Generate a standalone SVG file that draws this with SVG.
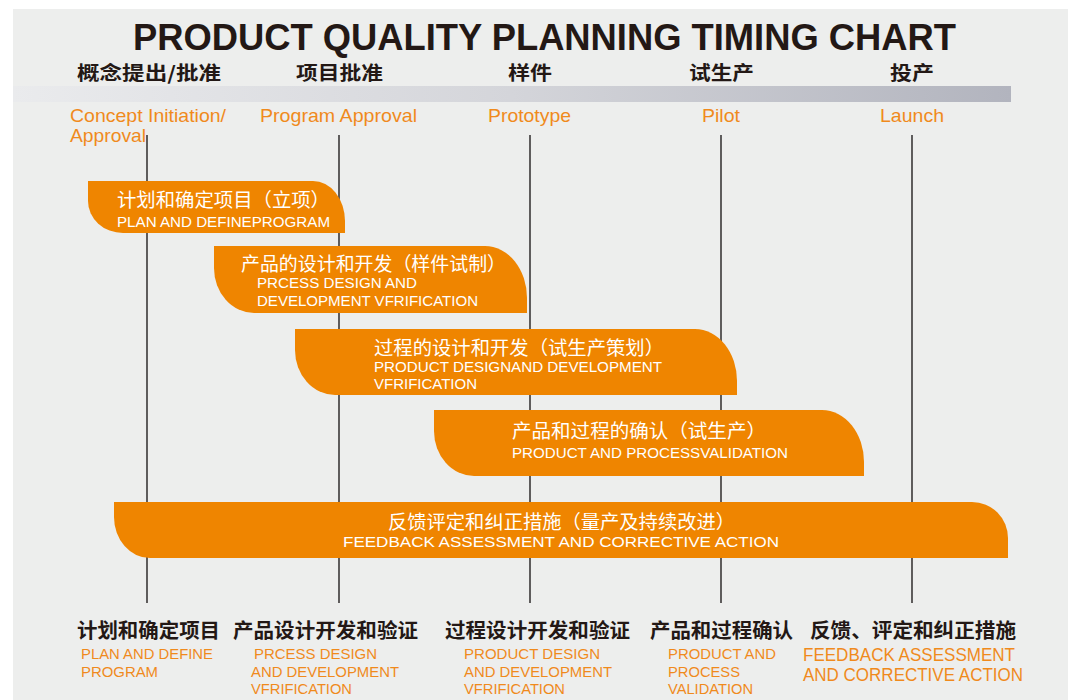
<svg xmlns="http://www.w3.org/2000/svg" width="1068" height="700" viewBox="0 0 1068 700">
<style>
.title{font-family:"Liberation Sans",Arial,sans-serif;font-weight:700;font-size:36px;fill:#231815}
.hcn{font-family:"Noto Sans CJK SC",sans-serif;font-weight:700;font-size:19px;fill:#231815}
.hen{font-family:"Liberation Sans",Arial,sans-serif;font-size:19px;fill:#f08a1c}
.bcn{font-family:"Noto Sans CJK SC",sans-serif;font-weight:400;font-size:19px;fill:#ffffff}
.ben{font-family:"Liberation Sans",Arial,sans-serif;font-size:14.5px;fill:#ffffff}
.fcn{font-family:"Noto Sans CJK SC",sans-serif;font-weight:700;font-size:20px;fill:#231815}
.fen{font-family:"Liberation Sans",Arial,sans-serif;font-size:15px;fill:#f08a1c}
.fen2{font-family:"Liberation Sans",Arial,sans-serif;font-size:18px;fill:#f08a1c}
.bar{fill:#ef8500}
.vl{stroke:#3a3838;stroke-width:1.6;fill:none}
</style>
<defs>
<linearGradient id="g" x1="0" y1="0" x2="1" y2="0">
<stop offset="0" stop-color="#eaebed"/>
<stop offset="0.5" stop-color="#d4d5da"/>
<stop offset="1" stop-color="#b2b4be"/>
</linearGradient>
</defs>
<rect x="0" y="0" width="1068" height="700" fill="#ffffff"/>
<rect x="13" y="9" width="1055" height="691" fill="#edeeed"/>
<rect x="13" y="86" width="998" height="16" fill="url(#g)"/>
<text class="title" x="133" y="50" textLength="823" lengthAdjust="spacingAndGlyphs">PRODUCT QUALITY PLANNING TIMING CHART</text>
<g id="headers">
<text class="hcn" x="77" y="80" textLength="144" lengthAdjust="spacingAndGlyphs">概念提出/批准</text>
<text class="hcn" x="296" y="80" textLength="87" lengthAdjust="spacingAndGlyphs">项目批准</text>
<text class="hcn" x="508" y="80" textLength="44" lengthAdjust="spacingAndGlyphs">样件</text>
<text class="hcn" x="689" y="80" textLength="65" lengthAdjust="spacingAndGlyphs">试生产</text>
<text class="hcn" x="890" y="80" textLength="44" lengthAdjust="spacingAndGlyphs">投产</text>
<text class="hen" x="70" y="122" textLength="156" lengthAdjust="spacingAndGlyphs">Concept Initiation/</text>
<text class="hen" x="70" y="142" textLength="76" lengthAdjust="spacingAndGlyphs">Approval</text>
<text class="hen" x="260" y="122" textLength="157" lengthAdjust="spacingAndGlyphs">Program Approval</text>
<text class="hen" x="488" y="122" textLength="83" lengthAdjust="spacingAndGlyphs">Prototype</text>
<text class="hen" x="702" y="122" textLength="38" lengthAdjust="spacingAndGlyphs">Pilot</text>
<text class="hen" x="880" y="122" textLength="64" lengthAdjust="spacingAndGlyphs">Launch</text>
</g>
<g id="connectors">
<line class="vl" x1="147" y1="135" x2="147" y2="603"/>
<line class="vl" x1="339" y1="135" x2="339" y2="603"/>
<line class="vl" x1="530" y1="135" x2="530" y2="603"/>
<line class="vl" x1="721" y1="135" x2="721" y2="603"/>
<line class="vl" x1="912" y1="135" x2="912" y2="603"/>
</g>
<g id="bar1">
<path class="bar" d="M88,181 H313 A32,40 0 0 1 345,221 V233 H123 A35,32 0 0 1 88,201 Z"/>
<text class="bcn" x="117" y="207" textLength="213" lengthAdjust="spacingAndGlyphs">计划和确定项目（立项）</text>
<text class="ben" x="117" y="227" textLength="213" lengthAdjust="spacingAndGlyphs">PLAN AND DEFINEPROGRAM</text>
</g>
<g id="bar2">
<path class="bar" d="M214,246 H485 A42,52 0 0 1 527,298 V313 H254 A40,45 0 0 1 214,268 Z"/>
<text class="bcn" x="241" y="271" textLength="265" lengthAdjust="spacingAndGlyphs">产品的设计和开发（样件试制）</text>
<text class="ben" x="257" y="288" textLength="160" lengthAdjust="spacingAndGlyphs">PRCESS DESIGN AND</text>
<text class="ben" x="257" y="306" textLength="221" lengthAdjust="spacingAndGlyphs">DEVELOPMENT VFRIFICATION</text>
</g>
<g id="bar3">
<path class="bar" d="M295,329 H695 A42,52 0 0 1 737,381 V395 H335 A40,45 0 0 1 295,350 Z"/>
<text class="bcn" x="374" y="355" textLength="290" lengthAdjust="spacingAndGlyphs">过程的设计和开发（试生产策划）</text>
<text class="ben" x="374" y="372" textLength="288" lengthAdjust="spacingAndGlyphs">PRODUCT DESIGNAND DEVELOPMENT</text>
<text class="ben" x="374" y="389" textLength="103" lengthAdjust="spacingAndGlyphs">VFRIFICATION</text>
</g>
<g id="bar4">
<path class="bar" d="M434,410 H822 A42,52 0 0 1 864,462 V476 H474 A40,45 0 0 1 434,431 Z"/>
<text class="bcn" x="512" y="438" textLength="254" lengthAdjust="spacingAndGlyphs">产品和过程的确认（试生产）</text>
<text class="ben" x="512" y="458" textLength="276" lengthAdjust="spacingAndGlyphs">PRODUCT AND PROCESSVALIDATION</text>
</g>
<g id="bar5">
<path class="bar" d="M114,502 H972 A36,36 0 0 1 1008,538 V558 H150 A36,41 0 0 1 114,517 Z"/>
<text class="bcn" x="388" y="529" textLength="347" lengthAdjust="spacingAndGlyphs">反馈评定和纠正措施（量产及持续改进）</text>
<text class="ben" x="343" y="547" textLength="436" lengthAdjust="spacingAndGlyphs">FEEDBACK ASSESSMENT AND CORRECTIVE ACTION</text>
</g>
<g id="footer1">
<text class="fcn" x="77" y="638" textLength="143" lengthAdjust="spacingAndGlyphs">计划和确定项目</text>
<text class="fen" x="81" y="659" textLength="132" lengthAdjust="spacingAndGlyphs">PLAN AND DEFINE</text>
<text class="fen" x="81" y="677" textLength="77" lengthAdjust="spacingAndGlyphs">PROGRAM</text>
</g>
<g id="footer2">
<text class="fcn" x="233" y="638" textLength="185" lengthAdjust="spacingAndGlyphs">产品设计开发和验证</text>
<text class="fen" x="254" y="659" textLength="123" lengthAdjust="spacingAndGlyphs">PRCESS DESIGN</text>
<text class="fen" x="251" y="677" textLength="148" lengthAdjust="spacingAndGlyphs">AND DEVELOPMENT</text>
<text class="fen" x="251" y="694" textLength="101" lengthAdjust="spacingAndGlyphs">VFRIFICATION</text>
</g>
<g id="footer3">
<text class="fcn" x="445" y="638" textLength="185" lengthAdjust="spacingAndGlyphs">过程设计开发和验证</text>
<text class="fen" x="464" y="659" textLength="136" lengthAdjust="spacingAndGlyphs">PRODUCT DESIGN</text>
<text class="fen" x="464" y="677" textLength="148" lengthAdjust="spacingAndGlyphs">AND DEVELOPMENT</text>
<text class="fen" x="464" y="694" textLength="101" lengthAdjust="spacingAndGlyphs">VFRIFICATION</text>
</g>
<g id="footer4">
<text class="fcn" x="650" y="638" textLength="143" lengthAdjust="spacingAndGlyphs">产品和过程确认</text>
<text class="fen" x="668" y="659" textLength="108" lengthAdjust="spacingAndGlyphs">PRODUCT AND</text>
<text class="fen" x="668" y="677" textLength="72" lengthAdjust="spacingAndGlyphs">PROCESS</text>
<text class="fen" x="668" y="694" textLength="85" lengthAdjust="spacingAndGlyphs">VALIDATION</text>
</g>
<g id="footer5">
<text class="fcn" x="810" y="638" textLength="206" lengthAdjust="spacingAndGlyphs">反馈、评定和纠正措施</text>
<text class="fen2" x="803" y="661" textLength="212" lengthAdjust="spacingAndGlyphs">FEEDBACK ASSESSMENT</text>
<text class="fen2" x="803" y="681" textLength="220" lengthAdjust="spacingAndGlyphs">AND CORRECTIVE ACTION</text>
</g>
</svg>
